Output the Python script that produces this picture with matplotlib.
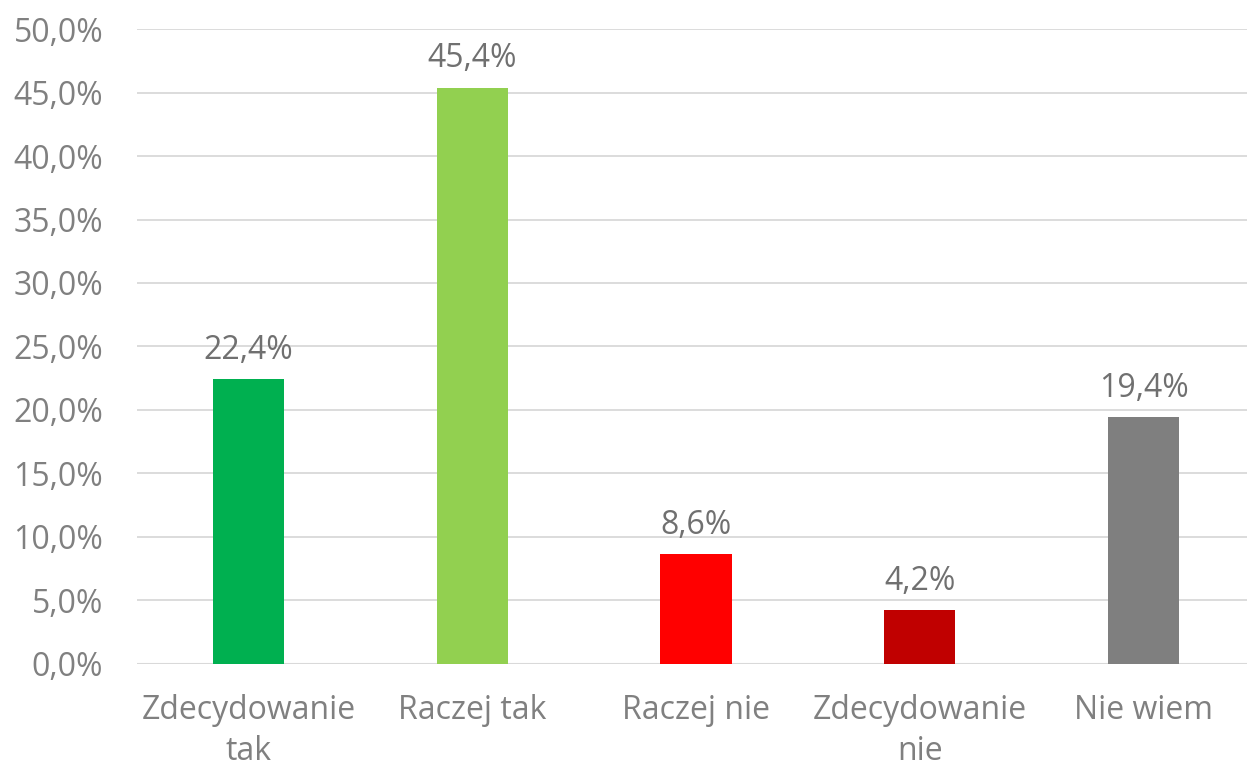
import matplotlib
matplotlib.use("Agg")
import matplotlib.pyplot as plt
from matplotlib.ticker import FuncFormatter

categories = ["Zdecydowanie\ntak", "Raczej tak", "Raczej nie", "Zdecydowanie\nnie", "Nie wiem"]
values = [22.4, 45.4, 8.6, 4.2, 19.4]
colors = ["#00B050", "#92D050", "#FF0000", "#C00000", "#7F7F7F"]
yticks = [0, 5, 10, 15, 20, 25, 30, 35, 40, 45, 50]

plt.rcParams['font.family'] = ['Open Sans', 'DejaVu Sans']
txt = "#808080"
fs = 23

W, H = 1247, 767
fig = plt.figure(figsize=(W/100, H/100), dpi=100)
left, right, top, bottom = 136.6, 1255.5, 29.3, 663.5
ax = fig.add_axes([left/W, 1-bottom/H, (right-left)/W, (bottom-top)/H])

x = list(range(len(categories)))
ax.bar(x, values, width=0.318, color=colors, zorder=3)
for xi, v in zip(x, values):
    ax.annotate(f"{v:.1f}%".replace(".", ","), (xi, v), xytext=(0, 9),
                textcoords="offset points", ha="center", va="bottom",
                fontsize=fs, color="#707070")

ax.set_xlim(-0.5, len(categories)-0.5)
ax.set_ylim(0, 50)
ax.set_yticks(yticks)
ax.yaxis.set_major_formatter(FuncFormatter(lambda v, p: f"{v:.1f}%".replace(".", ",")))
ax.set_xticks(x)
ax.set_xticklabels(categories, linespacing=1.32)
ax.tick_params(axis='y', length=0, pad=24, labelsize=fs, labelcolor=txt)
ax.tick_params(axis='x', length=0, pad=22, labelsize=fs, labelcolor=txt)
ax.grid(axis='y', color="#D9D9D9", linewidth=1.3, zorder=0)
for s in ax.spines.values():
    s.set_visible(False)
ax.axhline(0, color="#D9D9D9", linewidth=1.5, zorder=2)

fig.savefig("out.png", dpi=100)
